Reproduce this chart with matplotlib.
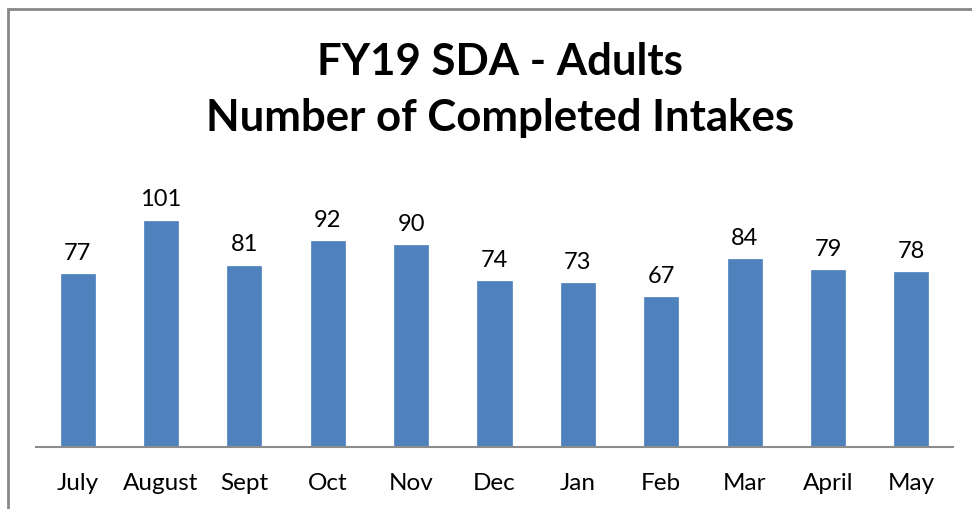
import matplotlib
matplotlib.use("Agg")
import matplotlib.pyplot as plt
from matplotlib.patches import Rectangle

months = ["July", "August", "Sept", "Oct", "Nov", "Dec", "Jan", "Feb", "Mar", "April", "May"]
intakes = [77, 101, 81, 92, 90, 74, 73, 67, 84, 79, 78]

plt.rcParams['font.family'] = ['Lato', 'DejaVu Sans']

W, H = 972, 510
fig = plt.figure(figsize=(W / 100, H / 100), dpi=100)
ax = fig.add_axes([36 / W, (H - 448) / H, (953 - 36) / W, (448 - 178) / H])

x = range(len(months))
bars = ax.bar(x, intakes, width=0.41, color="#4F81BD", edgecolor="#4F81BD", linewidth=0.5)
for xi, v in zip(x, intakes):
    ax.text(xi, v + 5, str(v), ha="center", va="bottom", fontsize=17, color="black")

ax.set_xlim(-0.5, len(months) - 0.5)
ax.set_ylim(0, 120.5)
ax.set_xticks(list(x))
ax.set_xticklabels(months, fontsize=17.5)
ax.tick_params(axis="x", length=0, pad=18)
ax.set_yticks([])
for s in ["top", "right", "left"]:
    ax.spines[s].set_visible(False)
ax.spines["bottom"].set_color("#8C8C8C")
ax.spines["bottom"].set_linewidth(1.5)

fig.text(500 / W, 1 - 62 / H, "FY19 SDA - Adults", ha="center", va="center",
         fontsize=31.5, fontweight="bold")
fig.text(500 / W, 1 - 118 / H, "Number of Completed Intakes", ha="center", va="center",
         fontsize=31.5, fontweight="bold")

fig.patches.append(Rectangle((7.5 / W, -0.1), 1.2, 1 - 9.5 / H + 0.1, transform=fig.transFigure,
                             fill=False, edgecolor="#888888", linewidth=2))

fig.savefig("out.png", dpi=100)
